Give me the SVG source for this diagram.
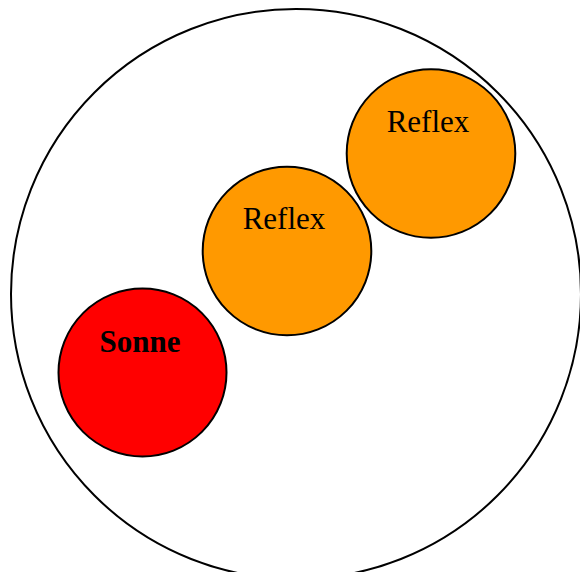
<svg xmlns="http://www.w3.org/2000/svg" width="580" height="572" viewBox="0 0 580 572">
<style>
.c{stroke:#000;stroke-width:2}
.t{font-family:"Liberation Serif","Times New Roman",serif;font-size:31px;text-anchor:middle;fill:#000}
</style>
<rect width="580" height="572" fill="#fff"/>
<g id="outer"><circle cx="296" cy="294" r="285" fill="none" class="c"/></g>
<g id="sonne"><circle cx="142.5" cy="372.5" r="84" fill="#ff0000" class="c"/><text x="140" y="352" class="t" font-weight="bold" font-size="32">Sonne</text></g>
<g id="reflex1"><circle cx="287" cy="251" r="84.3" fill="#ff9900" class="c"/><text x="284" y="229" class="t">Reflex</text></g>
<g id="reflex2"><circle cx="431" cy="153.5" r="84.3" fill="#ff9900" class="c"/><text x="428" y="131.5" class="t">Reflex</text></g>
<g id="connectors"/>
</svg>
